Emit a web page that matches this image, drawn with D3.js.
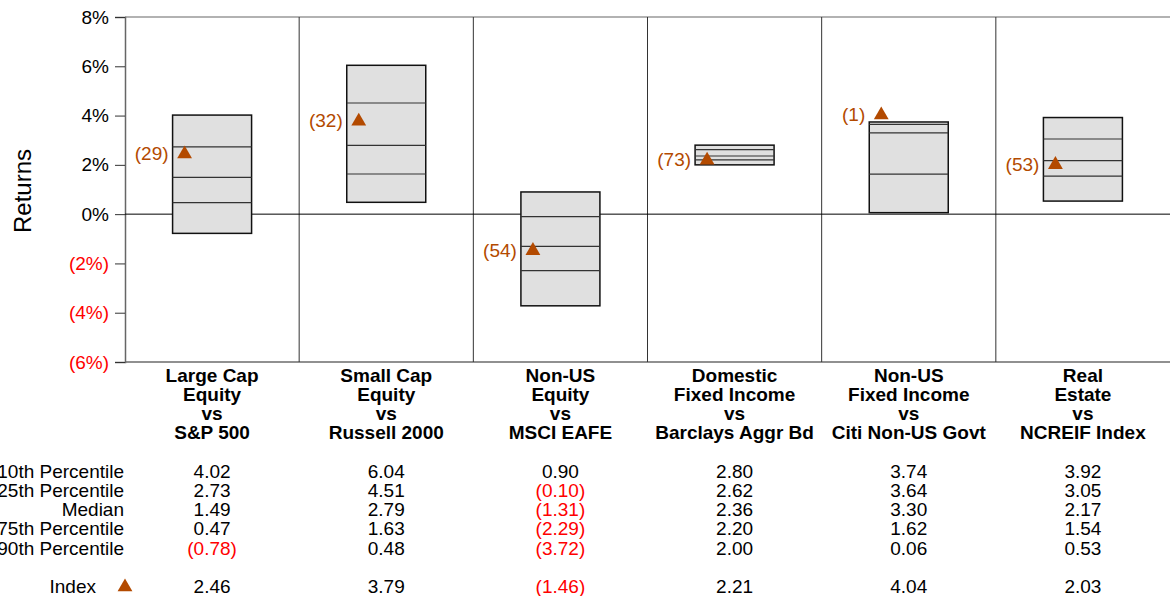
<!DOCTYPE html>
<html>
<head>
<meta charset="utf-8">
<style>
  body { margin: 0; background: #fff; }
  svg { font-family: "Liberation Sans", Arial, Helvetica, sans-serif; display: block; }
</style>
</head>
<body>
<svg width="1170" height="596"></svg>
<script src="https://d3js.org/d3.v7.min.js"></script>
<script>
// data
const groups = [
  ["Large Cap", "Equity", "vs", "S&P 500"],
  ["Small Cap", "Equity", "vs", "Russell 2000"],
  ["Non-US", "Equity", "vs", "MSCI EAFE"],
  ["Domestic", "Fixed Income", "vs", "Barclays Aggr Bd"],
  ["Non-US", "Fixed Income", "vs", "Citi Non-US Govt"],
  ["Real", "Estate", "vs", "NCREIF Index"]
];
const p10 = [4.02, 6.04, 0.90, 2.80, 3.74, 3.92];
const p25 = [2.73, 4.51, -0.10, 2.62, 3.64, 3.05];
const median = [1.49, 2.79, -1.31, 2.36, 3.30, 2.17];
const p75 = [0.47, 1.63, -2.29, 2.20, 1.62, 1.54];
const p90 = [-0.78, 0.48, -3.72, 2.00, 0.06, 0.53];
const indexVal = [2.46, 3.79, -1.46, 2.21, 4.04, 2.03];
const indexRank = [29, 32, 54, 73, 1, 53];
const rowLabels = ["10th Percentile", "25th Percentile", "Median", "75th Percentile", "90th Percentile"];
const yTicks = [8, 6, 4, 2, 0, -2, -4, -6];

const width = 1170, height = 596;
const margin = {top: 17, right: 0, bottom: 234, left: 125};
const svg = d3.select("svg");
const orange = "#b34a00";

const x = d3.scaleBand()
  .domain(d3.range(groups.length))
  .range([margin.left, width]);
const y = d3.scaleLinear().domain([-6, 8]).range([362, margin.top]);

const fmtPct = v => v < 0 ? `(${Math.abs(v)}%)` : `${v}%`;
const fmtNum = v => v < 0 ? `(${Math.abs(v).toFixed(2)})` : v.toFixed(2);
const col = v => v < 0 ? "#ff0000" : "#000";

// frame: top line, column dividers, bottom line
svg.append("line")
  .attr("x1", margin.left).attr("x2", width)
  .attr("y1", y(8)).attr("y2", y(8))
  .attr("stroke", "#666").attr("stroke-width", 1.2);
svg.append("line")
  .attr("x1", margin.left).attr("x2", width)
  .attr("y1", y(-6)).attr("y2", y(-6))
  .attr("stroke", "#222").attr("stroke-width", 1.2);
svg.append("g")
  .selectAll("line")
  .data(d3.range(1, groups.length))
  .join("line")
  .attr("x1", d => x(d)).attr("x2", d => x(d))
  .attr("y1", y(8)).attr("y2", y(-6))
  .attr("stroke", "#333").attr("stroke-width", 1);

// y axis
const yAxis = svg.append("g")
  .attr("transform", `translate(${margin.left},0)`)
  .call(d3.axisLeft(y).tickValues(yTicks).tickSize(10).tickPadding(6).tickFormat(fmtPct));
yAxis.select(".domain").attr("stroke", "#666").attr("stroke-width", 1.5);
yAxis.selectAll(".tick line").attr("stroke", "#333");
yAxis.selectAll(".tick text")
  .attr("font-size", 19)
  .attr("font-family", "Liberation Sans, Arial, sans-serif")
  .attr("fill", d => col(d));

svg.append("text")
  .attr("transform", `translate(31,191) rotate(-90)`)
  .attr("text-anchor", "middle")
  .attr("font-size", 24)
  .text("Returns");

// zero line
svg.append("line")
  .attr("x1", margin.left).attr("x2", width)
  .attr("y1", y(0)).attr("y2", y(0))
  .attr("stroke", "#000").attr("stroke-width", 1);

// boxes
const boxW = 79;
const boxes = svg.append("g")
  .selectAll("g")
  .data(groups.map((g, i) => i))
  .join("g")
  .attr("transform", i => `translate(${x(i) + x.bandwidth() / 2 - boxW / 2},0)`);

boxes.append("rect")
  .attr("x", 0).attr("width", boxW)
  .attr("y", i => y(p10[i]))
  .attr("height", i => y(p90[i]) - y(p10[i]))
  .attr("fill", "#e0e0e0")
  .attr("stroke", "#111").attr("stroke-width", 1.5);

boxes.selectAll("line")
  .data(i => [p25[i], median[i], p75[i]])
  .join("line")
  .attr("x1", 0).attr("x2", boxW)
  .attr("y1", d => y(d)).attr("y2", d => y(d))
  .attr("stroke", "#333").attr("stroke-width", 1.2);

const tri = d3.symbol().type(d3.symbolTriangle).size(95);

boxes.append("path")
  .attr("d", tri)
  .attr("transform", i => `translate(12,${y(indexVal[i]) + 0.5})`)
  .attr("fill", orange);

boxes.append("text")
  .attr("x", -4)
  .attr("y", i => y(indexVal[i]))
  .attr("dy", "0.35em")
  .attr("text-anchor", "end")
  .attr("font-size", 19)
  .attr("fill", orange)
  .text(i => `(${indexRank[i]})`);

// column headers
svg.append("g")
  .selectAll("text")
  .data(groups)
  .join("text")
  .attr("x", (d, i) => x(i) + x.bandwidth() / 2)
  .attr("y", 382)
  .attr("text-anchor", "middle")
  .attr("font-size", 19)
  .attr("font-weight", "bold")
  .selectAll("tspan")
  .data(d => d)
  .join("tspan")
  .attr("x", function () { return this.parentNode.getAttribute("x"); })
  .attr("dy", (d, j) => j === 0 ? 0 : 19)
  .text(d => d);

// table
const rows = [p10, p25, median, p75, p90];
const rowY = [478, 497, 516, 535, 555];
const table = svg.append("g").attr("font-size", 19);

table.selectAll("text.lab")
  .data(rowLabels)
  .join("text")
  .attr("class", "lab")
  .attr("x", 124)
  .attr("y", (d, r) => rowY[r])
  .attr("text-anchor", "end")
  .text(d => d);

rows.forEach((vals, r) => {
  table.append("g")
    .selectAll("text")
    .data(vals)
    .join("text")
    .attr("x", (d, i) => x(i) + x.bandwidth() / 2)
    .attr("y", rowY[r])
    .attr("text-anchor", "middle")
    .attr("fill", d => col(d))
    .text(fmtNum);
});

table.append("text")
  .attr("x", 96).attr("y", 593)
  .attr("text-anchor", "end")
  .text("Index");
table.append("path")
  .attr("d", tri)
  .attr("transform", "translate(125,587)")
  .attr("fill", orange);
table.append("g")
  .selectAll("text")
  .data(indexVal)
  .join("text")
  .attr("x", (d, i) => x(i) + x.bandwidth() / 2)
  .attr("y", 593)
  .attr("text-anchor", "middle")
  .attr("fill", d => col(d))
  .text(fmtNum);
</script>
</body>
</html>
